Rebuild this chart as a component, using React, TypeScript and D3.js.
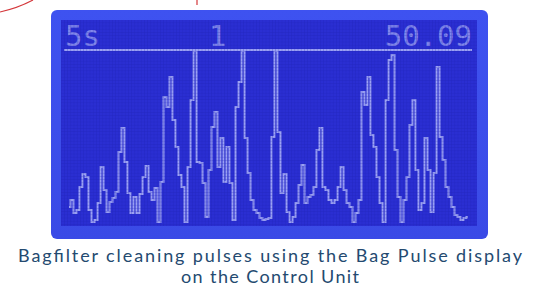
import * as d3 from 'd3';

// Bag pulse readings, one per LCD column (left to right), in display pixels above the baseline
const pulse = [
  15, 22, 9, 12, 35, 48, 45, 12, 0, 2, 19, 55, 32, 10, 20, 24, 30, 70, 94, 60,
  29, 9, 25, 9, 28, 45, 56, 30, 22, 34, 0, 40, 125, 115, 145, 102, 75, 47, 35, 0,
  55, 122, 171, 60, 59, 39, 5, 52, 95, 110, 55, 84, 40, 75, 39, 2, 115, 140, 171, 84,
  49, 22, 12, 9, 4, 2, 3, 4, 85, 171, 90, 29, 48, 10, 0, 5, 19, 37, 57, 19,
  25, 27, 35, 72, 94, 35, 32, 22, 19, 22, 35, 55, 32, 19, 15, 0, 9, 22, 130, 117,
  145, 87, 75, 45, 19, 0, 122, 162, 167, 72, 25, 0, 22, 45, 97, 122, 52, 12, 19, 84,
  52, 10, 49, 155, 85, 62, 35, 25, 15, 7, 5, 2, 4, 5,
];
const FULL_SCALE = 171;

// Header fields of the display
const headerLabels = ['5s', '1', '50.09'];
const captionLines = ['Bagfilter cleaning pulses using the Bag Pulse display', 'on the Control Unit'];

const W = 540;
const H = 287;
const LCD = '#9ba1f3';

export default function App() {
  const x = d3.scaleLinear().domain([0, pulse.length - 1]).range([69, 468]);
  const y = d3.scaleLinear().domain([0, FULL_SCALE]).range([222, 51]);

  const line = d3
    .line<number>()
    .x((_, i) => x(i))
    .y((d) => y(d))
    .curve(d3.curveStep);

  const headerX = [65, 209, 472];
  const headerAnchor = ['start', 'start', 'end'] as const;
  const captionWidth = [504, 178];

  return (
    <svg
      width={W}
      height={H}
      viewBox={`0 0 ${W} ${H}`}
      style={{ position: 'absolute', left: 0, top: 0, background: '#fff' }}
    >
      <defs>
        <pattern id="lcdGrid" width={3.2} height={3.2} patternUnits="userSpaceOnUse">
          <path d="M0 0 H3.2 M0 0 V3.2" stroke="#1c1fb0" strokeWidth={0.9} opacity={0.5} />
        </pattern>
        <linearGradient id="frame" x1="0" y1="0" x2="0" y2="1">
          <stop offset="0" stopColor="#3e52f0" />
          <stop offset="1" stopColor="#3a4ae6" />
        </linearGradient>
      </defs>

      {/* red annotation remnants */}
      <path d="M0 12 Q18 8 33 0" fill="none" stroke="#d4363a" strokeWidth={1.2} />
      <line x1={197} y1={0} x2={197} y2={5} stroke="#d4363a" strokeWidth={1.2} />

      {/* display frame */}
      <rect x={51} y={10} width={437} height={229} rx={6} fill="url(#frame)" />
      <rect x={61} y={20} width={416} height={206} fill="#2a2ed2" />

      {/* header */}
      {headerLabels.map((t, i) => (
        <text
          key={t}
          x={headerX[i]}
          y={46}
          textAnchor={headerAnchor[i]}
          fontFamily="DejaVu Sans Mono"
          fontSize={29}
          fill={LCD}
          opacity={0.78}
        >
          {t}
        </text>
      ))}
      <line x1={64} x2={472} y1={50} y2={50} stroke={LCD} strokeWidth={2} />

      {/* pulse trace */}
      <path d={line(pulse) ?? ''} fill="none" stroke={LCD} strokeWidth={2} />

      {/* LCD pixel grid */}
      <rect x={61} y={20} width={416} height={206} fill="url(#lcdGrid)" />

      {/* caption */}
      {captionLines.map((t, i) => (
        <text
          key={t}
          x={W / 2}
          y={262 + i * 21}
          textAnchor="middle"
          fontFamily="Lato"
          fontSize={18}
          textLength={captionWidth[i]}
          lengthAdjust="spacing"
          fill="#244a70"
        >
          {t}
        </text>
      ))}
    </svg>
  );
}
